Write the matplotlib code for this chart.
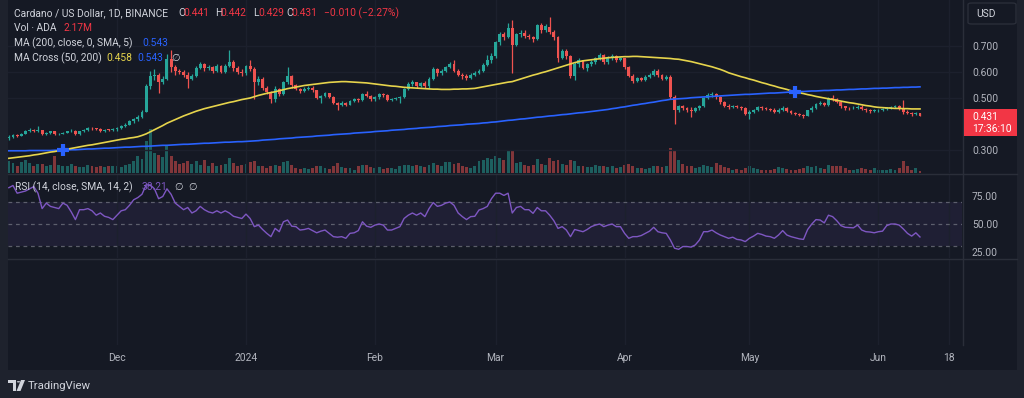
#!/usr/bin/env python3
# -*- coding: utf-8 -*-
"""
Cardano / US Dollar, 1D chart in the TradingView dark look:
candles + volume, MA200, MA cross (50/200) and an RSI pane.
"""

import numpy as np
import pandas as pd
import matplotlib
matplotlib.use("Agg")
import matplotlib.pyplot as plt
import matplotlib.dates as mdates
from matplotlib.patches import Rectangle, FancyBboxPatch, Polygon, Circle
from matplotlib.lines import Line2D

plt.rcParams['font.family'] = ['Roboto', 'DejaVu Sans']

# ---- data (prices in thousandths of a dollar, one entry per day) ----
first_day = '2023-11-05'
first_open = 345

close = [
    # Nov 5 - 30
    350, 358, 355, 362, 373, 378, 372, 376, 362, 365, 372, 360, 362, 366, 372, 375, 360, 372, 376, 385,
    383, 380, 374, 378, 376, 379,
    # Dec
    385, 392, 398, 410, 418, 428, 448, 545, 585, 590, 560, 575, 650, 620, 605, 600, 590, 575, 585, 615,
    630, 615, 620, 605, 625, 600, 625, 640, 615, 600, 595,
    # Jan
    622, 612, 560, 575, 540, 522, 495, 535, 515, 560, 585, 550, 535, 528, 535, 540, 530, 500, 508, 518,
    505, 482, 475, 482, 475, 488, 495, 492, 515, 508, 495,
    # Feb
    502, 515, 510, 492, 496, 500, 503, 535, 555, 560, 545, 558, 545, 575, 610, 595, 605, 620, 632, 605,
    590, 585, 578, 590, 597, 605, 628, 645, 662,
    # Mar
    715, 745, 735, 770, 705, 745, 750, 738, 735, 728, 780, 760, 775, 755, 735, 655, 680, 660, 585, 632,
    645, 615, 630, 638, 652, 665, 640, 655, 662, 648, 652,
    # Apr
    620, 585, 567, 578, 570, 582, 590, 605, 588, 575, 582, 505, 455, 468, 460, 455, 450, 462, 470, 500,
    510, 517, 505, 483, 470, 465, 470, 465, 460, 440,
    # May
    448, 455, 465, 462, 458, 455, 448, 455, 462, 450, 444, 440, 436, 432, 452, 462, 478, 482, 472, 500,
    495, 485, 468, 462, 460, 463, 467, 458, 452, 450, 452,
    # Jun 1 - 11
    454, 456, 462, 466, 468, 462, 447, 444, 438, 441, 431,
]

high = [
    356, 362, 361, 366, 378, 384, 380, 392, 378, 370, 375, 374, 366, 370, 375, 380, 377, 375, 380, 390,
    388, 386, 383, 381, 381, 383,
    389, 396, 402, 414, 424, 436, 455, 555, 605, 610, 595, 585, 670, 685, 628, 612, 608, 600, 592, 622,
    640, 636, 628, 624, 632, 628, 632, 685, 645, 622, 610,
    628, 645, 618, 585, 580, 548, 528, 545, 540, 565, 620, 588, 552, 540, 542, 548, 545, 532, 512, 522,
    520, 508, 486, 490, 485, 492, 500, 500, 520, 528, 510,
    508, 520, 520, 515, 500, 505, 508, 540, 560, 568, 562, 562, 565, 580, 618, 615, 612, 625, 638, 645,
    610, 598, 592, 595, 602, 612, 635, 665, 672,
    720, 752, 755, 790, 800, 750, 760, 760, 745, 740, 785, 790, 785, 810, 760, 740, 690, 690, 665, 640,
    652, 648, 635, 645, 658, 672, 670, 662, 668, 666, 658,
    655, 625, 592, 582, 582, 588, 595, 612, 612, 592, 590, 588, 510, 475, 472, 465, 465, 466, 475, 505,
    518, 525, 520, 508, 488, 476, 475, 472, 470, 465,
    452, 458, 470, 470, 466, 462, 460, 460, 470, 466, 455, 448, 444, 438, 455, 468, 482, 490, 485, 505,
    510, 500, 488, 470, 466, 468, 472, 472, 462, 456, 456,
    458, 460, 465, 470, 472, 472, 492, 452, 448, 446, 442,
]

low = [
    340, 346, 351, 352, 360, 370, 368, 370, 358, 358, 362, 357, 356, 360, 364, 368, 356, 358, 369, 374,
    378, 376, 370, 371, 372, 373,
    375, 381, 389, 395, 405, 412, 425, 445, 535, 570, 520, 555, 570, 600, 590, 592, 582, 540, 568, 580,
    610, 605, 608, 598, 600, 595, 598, 620, 605, 592, 585,
    590, 605, 495, 550, 532, 515, 480, 485, 508, 510, 555, 540, 530, 520, 525, 530, 525, 495, 480, 502,
    500, 478, 455, 470, 470, 472, 486, 486, 490, 502, 490,
    490, 498, 505, 488, 488, 492, 482, 500, 530, 548, 540, 542, 540, 540, 570, 585, 590, 600, 615, 600,
    585, 575, 570, 575, 586, 592, 600, 622, 635,
    655, 705, 725, 730, 595, 700, 735, 730, 728, 715, 725, 750, 755, 748, 725, 640, 650, 650, 578, 568,
    620, 610, 605, 625, 632, 645, 632, 632, 648, 640, 642,
    612, 580, 558, 562, 565, 566, 578, 585, 582, 570, 568, 498, 400, 445, 452, 445, 428, 445, 455, 465,
    495, 503, 498, 478, 465, 458, 460, 460, 455, 435,
    418, 442, 450, 455, 452, 450, 442, 444, 450, 446, 438, 434, 430, 425, 430, 448, 458, 472, 468, 468,
    488, 480, 462, 455, 452, 456, 458, 452, 448, 444, 446,
    446, 450, 452, 458, 462, 455, 440, 438, 432, 434, 429,
]

# volume, millions of ADA
volume = [
    12, 10, 7, 11, 13, 10, 7, 9, 9, 7, 8, 17, 8, 7, 7, 9, 7, 6, 6, 8, 7, 6, 7, 6, 7, 7,
    7, 6, 8, 9, 12, 17, 14, 32, 43, 20, 18, 16, 27, 17, 12, 9, 10, 12, 9, 12, 8, 13, 7, 10, 7, 8, 9, 15,
    10, 7, 8,
    9, 11, 12, 7, 7, 5, 7, 8, 7, 11, 12, 8, 5, 4, 5, 4, 5, 7, 7, 5, 4, 7, 10, 6, 5, 5, 3, 7, 8, 8, 6,
    5, 6, 4, 5, 5, 4, 7, 8, 8, 7, 8, 7, 6, 8, 10, 8, 7, 11, 11, 9, 10, 7, 6, 5, 7, 12, 13, 15, 14,
    17, 15, 13, 22, 22, 10, 11, 8, 7, 8, 14, 9, 8, 15, 12, 13, 9, 8, 13, 12, 7, 7, 6, 6, 8, 7, 7, 6, 7,
    5, 6,
    8, 9, 7, 5, 5, 4, 5, 7, 7, 6, 7, 25, 23, 13, 9, 7, 7, 5, 6, 8, 7, 6, 10, 8, 6, 5, 3, 4, 3, 5,
    7, 5, 4, 3, 3, 3, 4, 6, 5, 4, 3, 3, 4, 5, 7, 6, 7, 5, 4, 8, 7, 7, 7, 5, 3, 3, 4, 5, 4, 3, 5,
    3, 3, 3, 4, 3, 5, 12, 7, 3, 5, 2.17,
]

ma200 = [
    297, 297, 297, 297, 297, 298, 298, 298, 298, 298, 298, 299, 299, 299,
    300, 301, 301, 302, 303, 304, 304, 305, 306, 307, 307, 308, 309, 310, 311, 311, 312, 313,
    314, 314, 315, 316, 317, 318, 318, 319, 320, 321, 322, 322, 323, 324, 325, 326, 326, 327, 328, 329,
    330, 330, 331, 332, 332, 333,
    334, 335, 336, 338, 339, 340, 341, 343, 344, 345, 346, 348, 349, 350, 351, 352, 354, 355, 356, 357,
    359, 360, 361, 362, 363, 365, 366, 367,
    368, 369, 371, 372, 373, 374, 376, 377, 378, 379, 381, 382, 383, 385, 386, 387, 388, 390, 391, 392,
    394, 395, 396, 397, 399, 400, 401, 402, 404, 405,
    407, 408, 410, 412, 414, 415, 417, 419, 420, 422, 424, 426, 427, 429, 431, 432, 434, 436, 437, 439,
    441, 443, 444, 446, 448, 450, 452, 454,
    456, 459, 461, 464, 466, 469, 472, 474, 477, 479, 482, 484, 487, 490, 492, 495,
    496, 497, 498, 499, 501, 502, 503, 504, 505, 506, 507, 508, 509, 510,
    511, 512, 513, 514, 514, 515, 516, 517, 518, 519, 519, 520, 521, 522, 523, 524,
    525, 525, 526, 527, 527, 528, 529, 529, 530, 531, 531, 532, 533, 533, 534, 535, 535, 536, 537, 537,
    538, 538, 539, 540, 540, 541, 541, 542, 542, 543,
]

ma50 = [
    268, 270, 272, 274, 276, 278, 281, 283, 286, 289, 292, 294, 297, 300,
    303, 306, 309, 312, 315, 318, 320, 323, 326, 329, 332, 335, 338, 341, 343, 346, 348, 351,
    356, 362, 370, 378, 386, 394, 403, 410, 417, 424, 431, 437, 443, 449, 454,
    459, 463, 467, 471, 475, 479, 483, 486, 490, 494, 497, 500,
    505, 510, 514, 518, 521, 524, 528, 532, 536, 539, 542, 545, 548, 550,
    552, 554, 556, 558, 560, 561, 562, 563, 563, 562, 561, 560, 559, 558, 556, 554,
    552, 550, 548, 546, 545, 543, 541, 540, 539, 538, 537, 536, 535, 534, 534, 533,
    533, 533, 534, 534, 535, 535, 536, 537, 540, 543, 546, 549, 552, 555, 558, 561, 563,
    568, 573, 578, 583, 588, 592, 597, 601, 606, 611, 616, 621, 626, 631, 636, 640,
    643, 645, 647, 649, 651, 653, 655, 656, 657, 658, 659, 659, 660, 660, 659,
    658, 657, 656, 655, 654, 653, 652, 650, 649, 646, 643, 640, 636, 632, 628, 624, 620,
    615, 610, 604, 597, 592, 587, 582, 578, 573, 569,
    564, 559, 555, 550, 546, 541, 537, 533, 528, 523,
    520, 517, 513, 510, 506, 503, 500, 497, 494, 491, 488, 485, 482, 480,
    477, 474, 471, 469, 466, 464, 463, 462, 461, 460, 460, 459, 459, 458, 458, 458,
]

rsi = [
    83, 85, 78, 79, 80, 82, 84, 78, 64, 69, 66, 65, 64, 69, 67, 61, 54, 63, 63, 64, 62, 58, 60, 57, 56, 54,
    58, 62, 63, 67, 72, 74, 77, 85.5, 85.5, 82, 73, 75, 82, 77, 69, 66, 63, 65, 60, 62, 66, 63, 61, 60,
    62, 60, 62, 60, 57, 56, 55,
    59, 55, 47.6, 49, 45, 41.5, 38.5, 46, 43, 52, 53.6, 48, 47.6, 44.5, 45, 46, 44, 42, 43.5, 44.5,
    41.5, 38.5, 38, 38.5, 37, 41.5, 42, 44, 52, 48, 47,
    49, 50, 49, 44.5, 44.5, 46, 47.6, 55, 58, 60, 58, 60, 56.7, 64, 69.5, 66, 67, 69, 70, 67,
    60, 56.7, 54, 56.7, 57, 62.7, 64, 66, 73,
    78, 78, 76, 78, 60, 65, 66, 63, 63, 59.7, 65, 62, 62, 58, 53, 46, 47.6, 44.5, 38.5, 45,
    44, 43, 45, 47.6, 49, 50, 47.6, 49, 50, 47.6, 47.6,
    41.5, 37, 38.5, 38.5, 39.5, 41.5, 43.5, 47, 43, 42, 41.5, 35.5, 28, 27, 29.5, 29.5, 29, 31, 35.5, 43,
    43, 44.5, 42, 40, 38.5, 37, 38, 36, 35.5, 34,
    37, 39, 41.5, 40.5, 39, 38.5, 37, 40, 44, 40, 38.5, 37.5, 36.5, 36, 45, 50, 54, 53.6, 51, 58,
    56.7, 53, 48.5, 47, 46.8, 46.5, 49, 44.5, 43, 42.7, 42,
    43, 43.5, 48.5, 50, 50, 49, 45.5, 41.5, 39, 42, 38.21,
]

tick_dates = ['2023-12-01', '2024-01-01', '2024-02-01', '2024-03-01', '2024-04-01',
              '2024-05-01', '2024-06-01', '2024-06-18']
tick_labels = ['Dec', '2024', 'Feb', 'Mar', 'Apr', 'May', 'Jun', '18']
price_ticks = [0.3, 0.5, 0.6, 0.7]   # 0.400 sits under the last-price label
rsi_ticks = [25, 50, 75]

# ---- colours ----
BG = '#151924'
OUTER = '#1e222d'
GRID = '#1c202d'
SEP = '#2a2e39'
TXT = '#d1d4dc'
AXTXT = '#b2b5be'
UP = '#26a69a'
DOWN = '#ef5350'
BLUE = '#2962ff'
YELLOW = '#e6d44c'
PURPLE = '#7e57c2'
LABEL_RED = '#f23645'

W, H = 1024, 398
fig = plt.figure(figsize=(W / 100, H / 100), dpi=100, facecolor=OUTER)


def px_axes(x0, y0, x1, y1, **kw):
    return fig.add_axes([x0 / W, 1 - y1 / H, (x1 - x0) / W, (y1 - y0) / H], **kw)


def ftext(px, py, s, color=TXT, size=7.4, **kw):
    return fig.text(px / W, 1 - py / H, s, color=color, fontsize=size,
                    ha=kw.pop('ha', 'left'), va=kw.pop('va', 'center'), **kw)


def hline_px(y, x0, x1, color=SEP, lw=1.0):
    fig.add_artist(Line2D([x0 / W, x1 / W], [1 - y / H, 1 - y / H], color=color, lw=lw,
                          transform=fig.transFigure, zorder=2))


# dark chart area
fig.add_artist(Rectangle((8 / W, 1 - 370 / H), (1017 - 8) / W, 370 / H, transform=fig.transFigure,
                         facecolor=BG, edgecolor='none', zorder=-10))

dates = pd.date_range(first_day, periods=len(close), freq='D')
x = mdates.date2num(dates)
c = np.array(close) / 1000
o = np.r_[first_open, close[:-1]] / 1000
hi = np.array(high) / 1000
lo = np.array(low) / 1000
up = c >= o
cols = np.where(up, UP, DOWN)

dec1 = mdates.date2num(pd.Timestamp('2023-12-01'))
xlim = (dec1 - 26.2, dec1 + 203.1)
xt = mdates.date2num(pd.to_datetime(tick_dates))

# ---- price pane ----
ax_p = px_axes(8, 0, 962, 173)
ax_v = ax_p.twinx()
ax_v.set_zorder(ax_p.get_zorder() - 1)
for a in (ax_p, ax_v):
    a.patch.set_visible(False)
    for s in a.spines.values():
        s.set_visible(False)

vol_cols = [(0.149, 0.651, 0.604, 0.5) if u else (0.937, 0.325, 0.314, 0.5) for u in up]
ax_v.bar(x, volume, width=0.7, color=vol_cols)
ax_v.set_ylim(0, 171)
ax_v.set_yticks([])

ax_p.vlines(x, lo, hi, colors=cols, lw=0.9, zorder=3)
ax_p.bar(x, np.maximum(np.abs(c - o), 0.003), bottom=np.minimum(o, c), width=0.7,
         color=cols, zorder=4)
ma200_v = np.array(ma200) / 1000
ma50_v = np.array(ma50) / 1000
ax_p.plot(x, ma200_v, color=BLUE, lw=1.2, zorder=5)
ax_p.plot(x, ma50_v, color=YELLOW, lw=1.2, zorder=5)

# cross markers where MA50 crosses MA200
side = np.sign(ma50_v - ma200_v)
cross = np.where(side[1:] != side[:-1])[0] + 1
ax_p.plot(x[cross], ma200_v[cross], ls='none', marker='+', ms=8, mew=3, color=BLUE, zorder=6)

ax_p.set_xlim(*xlim)
ax_p.set_ylim(0.5 - 75 / 260, 0.5 + 98 / 260)
ax_p.set_yticks(price_ticks)
ax_p.set_yticklabels([f'{t:.3f}' for t in price_ticks])
ax_p.yaxis.tick_right()
ax_p.tick_params(axis='y', length=0, pad=7.2, labelsize=7.4, labelcolor=AXTXT)
ax_p.set_xticks(xt)
ax_p.tick_params(axis='x', length=0, labelbottom=False)
ax_p.grid(True, color=GRID, lw=1, zorder=0)

# ---- RSI pane ----
ax_r = px_axes(8, 175, 962, 258)
ax_r.patch.set_visible(False)
for s in ax_r.spines.values():
    s.set_visible(False)
ax_r.axhspan(30, 70, color=PURPLE, alpha=0.1, lw=0)
for lvl in (70, 50, 30):
    ax_r.axhline(lvl, color='#787b86', lw=0.9, ls=(0, (3, 3)), alpha=0.7)
ax_r.plot(x, rsi, color=PURPLE, lw=1.0)
ax_r.set_xlim(*xlim)
ax_r.set_ylim(50 - 34 / 1.1, 50 + 49 / 1.1)
ax_r.set_yticks(rsi_ticks)
ax_r.set_yticklabels([f'{t:.2f}' for t in rsi_ticks])
ax_r.yaxis.tick_right()
ax_r.tick_params(axis='y', length=0, pad=7.2, labelsize=7.4, labelcolor=AXTXT)
ax_r.set_xticks(xt)
ax_r.tick_params(axis='x', length=0, labelbottom=False)
ax_r.grid(True, axis='x', color=GRID, lw=1)

# ---- empty lower pane + time axis ----
ax_l = px_axes(8, 260, 962, 345)
ax_l.patch.set_visible(False)
for s in ax_l.spines.values():
    s.set_visible(False)
ax_l.set_xlim(*xlim)
ax_l.set_yticks([])
ax_l.set_xticks(xt)
ax_l.set_xticklabels(tick_labels)
ax_l.tick_params(axis='x', length=0, pad=6, labelsize=7.4, labelcolor=AXTXT)
ax_l.grid(True, axis='x', color=GRID, lw=1)

# pane separators
hline_px(174, 8, 1017)
hline_px(259, 8, 1017)
fig.add_artist(Line2D([962.5 / W, 962.5 / W], [1 - 345 / H, 1], color=SEP, lw=1,
                      transform=fig.transFigure, zorder=2))

# ---- legends ----
EMPTY = dict(family=['DejaVu Sans'])
ftext(14, 13, 'Cardano / US Dollar, 1D, BINANCE')
for px, lab, val in [(178, 'O', '0.441'), (215, 'H', '0.442'), (253, 'L', '0.429'), (286, 'C', '0.431')]:
    ftext(px, 13, lab)
    ftext(px + 5.5, 13, val, color=LABEL_RED)
ftext(324, 13, '\u22120.010 (\u22122.27%)', color=LABEL_RED)
ftext(14, 28, 'Vol \u00b7 ADA')
ftext(63, 28, '2.17M', color=LABEL_RED)
ftext(14, 43, 'MA (200, close, 0, SMA, 5)')
ftext(142, 43, '0.543', color=BLUE)
ftext(14, 58, 'MA Cross (50, 200)')
ftext(106, 58, '0.458', color=YELLOW)
ftext(137, 58, '0.543', color=BLUE)
ftext(171, 58, '\u2205', color=TXT, size=7, **EMPTY)
ftext(15, 187, 'RSI (14, close, SMA, 14, 2)')
ftext(142, 187, '38.21', color=PURPLE)
ftext(174, 187, '\u2205', color=TXT, size=7, **EMPTY)
ftext(188, 187, '\u2205', color=TXT, size=7, **EMPTY)

# USD button
fig.add_artist(FancyBboxPatch((968 / W, 1 - 24 / H), 48 / W, 21 / H, transform=fig.transFigure,
                              boxstyle='round,pad=0,rounding_size=0.004', facecolor=BG,
                              edgecolor=SEP, lw=1, zorder=5))
ftext(976, 14, 'USD', color=TXT, zorder=6)

# last price label
fig.add_artist(Rectangle((964 / W, 1 - 136 / H), 53 / W, 27 / H, transform=fig.transFigure,
                         facecolor=LABEL_RED, edgecolor='none', zorder=5))
ftext(972, 117, '0.431', color='white', zorder=6)
ftext(972, 129, '17:36:10', color='white', zorder=6)

# TradingView logo
def fp(pts):
    return [(px / W, 1 - py / H) for px, py in pts]

fig.add_artist(Polygon(fp([(8, 380), (16, 380), (16, 391), (13, 391), (13, 383), (8, 383)]),
                       closed=True, transform=fig.transFigure, facecolor=TXT, zorder=5))
fig.add_artist(Circle((18.5 / W, 1 - 381.8 / H), 1.7 / W, transform=fig.transFigure,
                      facecolor=TXT, zorder=5))
fig.add_artist(Polygon(fp([(21, 380), (25, 380), (20.5, 391), (16.5, 391)]), closed=True,
                       transform=fig.transFigure, facecolor=TXT, zorder=5))
ftext(28, 386, 'TradingView', color=TXT, size=8.2)

fig.savefig('out.png', dpi=100, facecolor=OUTER)
